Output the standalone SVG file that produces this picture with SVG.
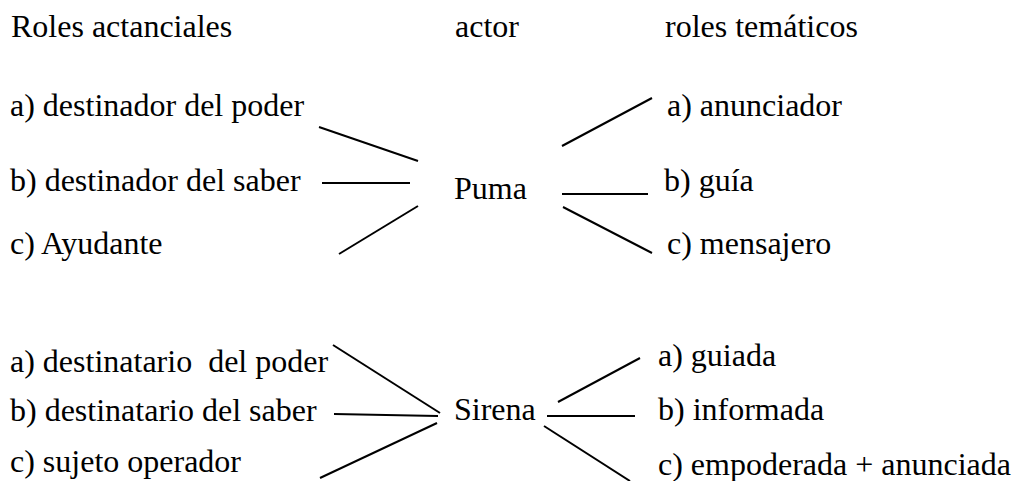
<svg xmlns="http://www.w3.org/2000/svg" width="1015" height="481" viewBox="0 0 1015 481">
  <style>
    .link { stroke: #000; stroke-width: 2; fill: none; }
  </style>
  <rect width="1015" height="481" fill="#fff"/>

  <!-- column headings -->
  <g id="headings" font-family="Times New Roman" font-size="32" fill="#000">
    <text x="11" y="37" font-family="Times New Roman">Roles actanciales</text>
    <text x="455" y="37" font-family="Times New Roman">actor</text>
    <text x="665" y="37" font-family="Times New Roman">roles temáticos</text>
  </g>

  <!-- actor: Puma -->
  <g id="puma-actancial" font-family="Times New Roman" font-size="32" fill="#000">
    <text x="10" y="116" font-family="Times New Roman">a) destinador del poder</text>
    <text x="10" y="191" font-family="Times New Roman">b) destinador del saber</text>
    <text x="10" y="254" font-family="Times New Roman">c) Ayudante</text>
  </g>
  <g id="puma" font-family="Times New Roman" font-size="32" fill="#000">
    <text x="454" y="199" font-family="Times New Roman">Puma</text>
  </g>
  <g id="puma-tematico" font-family="Times New Roman" font-size="32" fill="#000">
    <text x="667" y="116" font-family="Times New Roman">a) anunciador</text>
    <text x="664" y="191" font-family="Times New Roman">b) guía</text>
    <text x="667" y="254" font-family="Times New Roman">c) mensajero</text>
  </g>

  <!-- actor: Sirena -->
  <g id="sirena-actancial" font-family="Times New Roman" font-size="32" fill="#000">
    <text x="10" y="372" font-family="Times New Roman" xml:space="preserve">a) destinatario  del poder</text>
    <text x="10" y="421" font-family="Times New Roman">b) destinatario del saber</text>
    <text x="10" y="472" font-family="Times New Roman">c) sujeto operador</text>
  </g>
  <g id="sirena" font-family="Times New Roman" font-size="32" fill="#000">
    <text x="454" y="420" font-family="Times New Roman">Sirena</text>
  </g>
  <g id="sirena-tematico" font-family="Times New Roman" font-size="32" fill="#000">
    <text x="658" y="366" font-family="Times New Roman">a) guiada</text>
    <text x="658" y="420" font-family="Times New Roman">b) informada</text>
    <text x="658" y="475" font-family="Times New Roman">c) empoderada + anunciada</text>
  </g>

  <!-- connectors -->
  <g id="connectors">
    <line class="link" x1="319" y1="127" x2="418" y2="161"/>
    <line class="link" x1="322" y1="183" x2="410" y2="183"/>
    <line class="link" x1="339" y1="254" x2="418" y2="206"/>
    <line class="link" x1="562" y1="146" x2="652" y2="98"/>
    <line class="link" x1="562" y1="194" x2="648" y2="194"/>
    <line class="link" x1="563" y1="207" x2="652" y2="253"/>

    <line class="link" x1="333" y1="345" x2="440" y2="413"/>
    <line class="link" x1="334" y1="414" x2="438" y2="416"/>
    <line class="link" x1="320" y1="478" x2="437" y2="423"/>
    <line class="link" x1="558" y1="402" x2="640" y2="358"/>
    <line class="link" x1="547" y1="416" x2="635" y2="416"/>
    <line class="link" x1="544" y1="426" x2="630" y2="481"/>
  </g>
</svg>
